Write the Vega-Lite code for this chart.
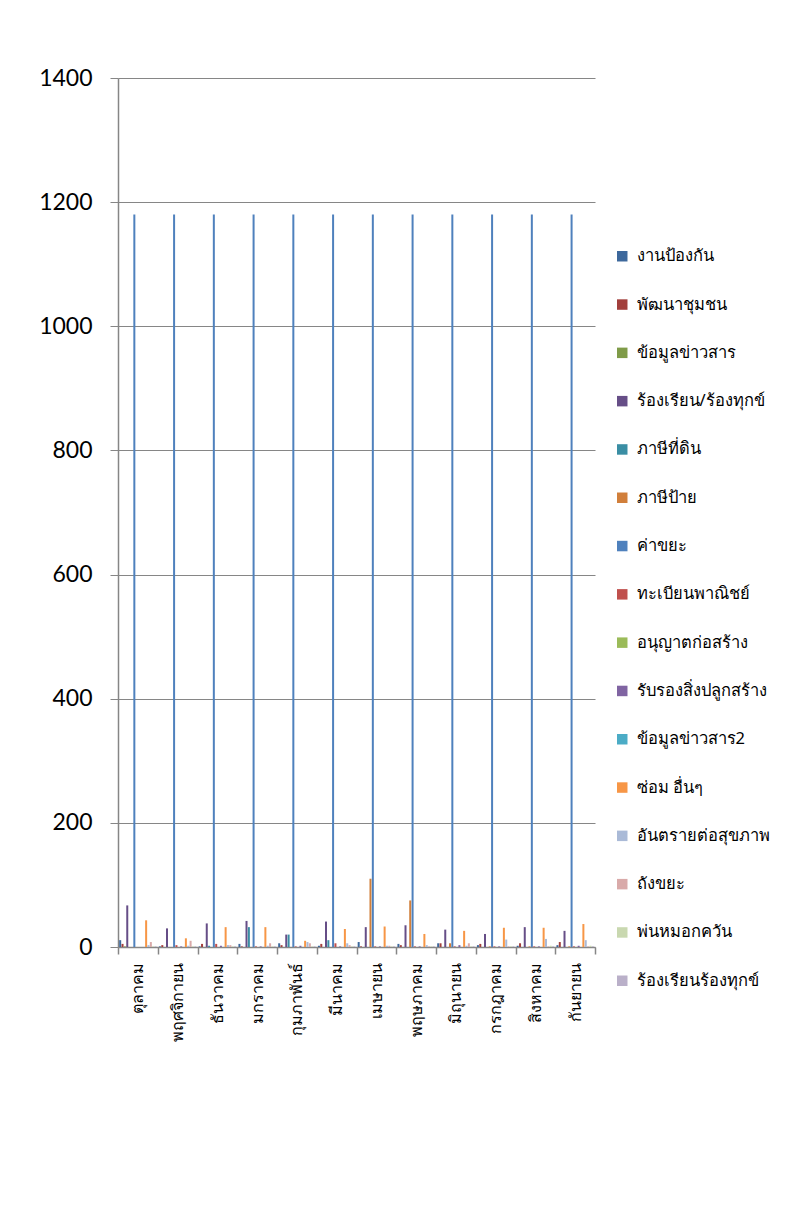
{
  "$schema": "https://vega.github.io/schema/vega-lite/v6.json",
  "width": 477,
  "height": 869,
  "autosize": {"type": "none"},
  "padding": {"left": 118, "top": 78, "right": 192, "bottom": 278},
  "background": "white",
  "config": {"view": {"stroke": null}, "font": "Lato"},
  "datasets": {
    "rows": [
      {"m":"ตุลาคม","s":"งานป้องกัน","v":11},{"m":"ตุลาคม","s":"พัฒนาชุมชน","v":5},{"m":"ตุลาคม","s":"ข้อมูลข่าวสาร","v":1},{"m":"ตุลาคม","s":"ร้องเรียน/ร้องทุกข์","v":67},{"m":"ตุลาคม","s":"ภาษีที่ดิน","v":0},{"m":"ตุลาคม","s":"ภาษีป้าย","v":0},{"m":"ตุลาคม","s":"ค่าขยะ","v":1180},{"m":"ตุลาคม","s":"ทะเบียนพาณิชย์","v":0},{"m":"ตุลาคม","s":"อนุญาตก่อสร้าง","v":0},{"m":"ตุลาคม","s":"รับรองสิ่งปลูกสร้าง","v":0},{"m":"ตุลาคม","s":"ข้อมูลข่าวสาร2","v":0},{"m":"ตุลาคม","s":"ซ่อม อื่นๆ","v":43},{"m":"ตุลาคม","s":"อันตรายต่อสุขภาพ","v":3},{"m":"ตุลาคม","s":"ถังขยะ","v":8},{"m":"ตุลาคม","s":"พ่นหมอกควัน","v":1},{"m":"ตุลาคม","s":"ร้องเรียนร้องทุกข์","v":1},
      {"m":"พฤศจิกายน","s":"งานป้องกัน","v":1},{"m":"พฤศจิกายน","s":"พัฒนาชุมชน","v":3},{"m":"พฤศจิกายน","s":"ข้อมูลข่าวสาร","v":0},{"m":"พฤศจิกายน","s":"ร้องเรียน/ร้องทุกข์","v":30},{"m":"พฤศจิกายน","s":"ภาษีที่ดิน","v":0},{"m":"พฤศจิกายน","s":"ภาษีป้าย","v":0},{"m":"พฤศจิกายน","s":"ค่าขยะ","v":1180},{"m":"พฤศจิกายน","s":"ทะเบียนพาณิชย์","v":3},{"m":"พฤศจิกายน","s":"อนุญาตก่อสร้าง","v":0},{"m":"พฤศจิกายน","s":"รับรองสิ่งปลูกสร้าง","v":1},{"m":"พฤศจิกายน","s":"ข้อมูลข่าวสาร2","v":0},{"m":"พฤศจิกายน","s":"ซ่อม อื่นๆ","v":14},{"m":"พฤศจิกายน","s":"อันตรายต่อสุขภาพ","v":2},{"m":"พฤศจิกายน","s":"ถังขยะ","v":10},{"m":"พฤศจิกายน","s":"พ่นหมอกควัน","v":1},{"m":"พฤศจิกายน","s":"ร้องเรียนร้องทุกข์","v":1},
      {"m":"ธันวาคม","s":"งานป้องกัน","v":1},{"m":"ธันวาคม","s":"พัฒนาชุมชน","v":5},{"m":"ธันวาคม","s":"ข้อมูลข่าวสาร","v":0},{"m":"ธันวาคม","s":"ร้องเรียน/ร้องทุกข์","v":38},{"m":"ธันวาคม","s":"ภาษีที่ดิน","v":2},{"m":"ธันวาคม","s":"ภาษีป้าย","v":0},{"m":"ธันวาคม","s":"ค่าขยะ","v":1180},{"m":"ธันวาคม","s":"ทะเบียนพาณิชย์","v":5},{"m":"ธันวาคม","s":"อนุญาตก่อสร้าง","v":0},{"m":"ธันวาคม","s":"รับรองสิ่งปลูกสร้าง","v":2},{"m":"ธันวาคม","s":"ข้อมูลข่าวสาร2","v":0},{"m":"ธันวาคม","s":"ซ่อม อื่นๆ","v":32},{"m":"ธันวาคม","s":"อันตรายต่อสุขภาพ","v":3},{"m":"ธันวาคม","s":"ถังขยะ","v":3},{"m":"ธันวาคม","s":"พ่นหมอกควัน","v":1},{"m":"ธันวาคม","s":"ร้องเรียนร้องทุกข์","v":1},
      {"m":"มกราคม","s":"งานป้องกัน","v":5},{"m":"มกราคม","s":"พัฒนาชุมชน","v":1},{"m":"มกราคม","s":"ข้อมูลข่าวสาร","v":0},{"m":"มกราคม","s":"ร้องเรียน/ร้องทุกข์","v":42},{"m":"มกราคม","s":"ภาษีที่ดิน","v":32},{"m":"มกราคม","s":"ภาษีป้าย","v":0},{"m":"มกราคม","s":"ค่าขยะ","v":1180},{"m":"มกราคม","s":"ทะเบียนพาณิชย์","v":1},{"m":"มกราคม","s":"อนุญาตก่อสร้าง","v":0},{"m":"มกราคม","s":"รับรองสิ่งปลูกสร้าง","v":1},{"m":"มกราคม","s":"ข้อมูลข่าวสาร2","v":0},{"m":"มกราคม","s":"ซ่อม อื่นๆ","v":32},{"m":"มกราคม","s":"อันตรายต่อสุขภาพ","v":2},{"m":"มกราคม","s":"ถังขยะ","v":6},{"m":"มกราคม","s":"พ่นหมอกควัน","v":1},{"m":"มกราคม","s":"ร้องเรียนร้องทุกข์","v":1},
      {"m":"กุมภาพันธ์","s":"งานป้องกัน","v":6},{"m":"กุมภาพันธ์","s":"พัฒนาชุมชน","v":3},{"m":"กุมภาพันธ์","s":"ข้อมูลข่าวสาร","v":0},{"m":"กุมภาพันธ์","s":"ร้องเรียน/ร้องทุกข์","v":20},{"m":"กุมภาพันธ์","s":"ภาษีที่ดิน","v":20},{"m":"กุมภาพันธ์","s":"ภาษีป้าย","v":0},{"m":"กุมภาพันธ์","s":"ค่าขยะ","v":1180},{"m":"กุมภาพันธ์","s":"ทะเบียนพาณิชย์","v":1},{"m":"กุมภาพันธ์","s":"อนุญาตก่อสร้าง","v":0},{"m":"กุมภาพันธ์","s":"รับรองสิ่งปลูกสร้าง","v":2},{"m":"กุมภาพันธ์","s":"ข้อมูลข่าวสาร2","v":0},{"m":"กุมภาพันธ์","s":"ซ่อม อื่นๆ","v":10},{"m":"กุมภาพันธ์","s":"อันตรายต่อสุขภาพ","v":8},{"m":"กุมภาพันธ์","s":"ถังขยะ","v":6},{"m":"กุมภาพันธ์","s":"พ่นหมอกควัน","v":1},{"m":"กุมภาพันธ์","s":"ร้องเรียนร้องทุกข์","v":1},
      {"m":"มีนาคม","s":"งานป้องกัน","v":2},{"m":"มีนาคม","s":"พัฒนาชุมชน","v":5},{"m":"มีนาคม","s":"ข้อมูลข่าวสาร","v":0},{"m":"มีนาคม","s":"ร้องเรียน/ร้องทุกข์","v":41},{"m":"มีนาคม","s":"ภาษีที่ดิน","v":11},{"m":"มีนาคม","s":"ภาษีป้าย","v":0},{"m":"มีนาคม","s":"ค่าขยะ","v":1180},{"m":"มีนาคม","s":"ทะเบียนพาณิชย์","v":6},{"m":"มีนาคม","s":"อนุญาตก่อสร้าง","v":0},{"m":"มีนาคม","s":"รับรองสิ่งปลูกสร้าง","v":1},{"m":"มีนาคม","s":"ข้อมูลข่าวสาร2","v":0},{"m":"มีนาคม","s":"ซ่อม อื่นๆ","v":29},{"m":"มีนาคม","s":"อันตรายต่อสุขภาพ","v":6},{"m":"มีนาคม","s":"ถังขยะ","v":3},{"m":"มีนาคม","s":"พ่นหมอกควัน","v":1},{"m":"มีนาคม","s":"ร้องเรียนร้องทุกข์","v":1},
      {"m":"เมษายน","s":"งานป้องกัน","v":8},{"m":"เมษายน","s":"พัฒนาชุมชน","v":1},{"m":"เมษายน","s":"ข้อมูลข่าวสาร","v":0},{"m":"เมษายน","s":"ร้องเรียน/ร้องทุกข์","v":32},{"m":"เมษายน","s":"ภาษีที่ดิน","v":0},{"m":"เมษายน","s":"ภาษีป้าย","v":110},{"m":"เมษายน","s":"ค่าขยะ","v":1180},{"m":"เมษายน","s":"ทะเบียนพาณิชย์","v":1},{"m":"เมษายน","s":"อนุญาตก่อสร้าง","v":0},{"m":"เมษายน","s":"รับรองสิ่งปลูกสร้าง","v":1},{"m":"เมษายน","s":"ข้อมูลข่าวสาร2","v":0},{"m":"เมษายน","s":"ซ่อม อื่นๆ","v":33},{"m":"เมษายน","s":"อันตรายต่อสุขภาพ","v":2},{"m":"เมษายน","s":"ถังขยะ","v":2},{"m":"เมษายน","s":"พ่นหมอกควัน","v":1},{"m":"เมษายน","s":"ร้องเรียนร้องทุกข์","v":1},
      {"m":"พฤษภาคม","s":"งานป้องกัน","v":5},{"m":"พฤษภาคม","s":"พัฒนาชุมชน","v":3},{"m":"พฤษภาคม","s":"ข้อมูลข่าวสาร","v":0},{"m":"พฤษภาคม","s":"ร้องเรียน/ร้องทุกข์","v":35},{"m":"พฤษภาคม","s":"ภาษีที่ดิน","v":0},{"m":"พฤษภาคม","s":"ภาษีป้าย","v":75},{"m":"พฤษภาคม","s":"ค่าขยะ","v":1180},{"m":"พฤษภาคม","s":"ทะเบียนพาณิชย์","v":1},{"m":"พฤษภาคม","s":"อนุญาตก่อสร้าง","v":0},{"m":"พฤษภาคม","s":"รับรองสิ่งปลูกสร้าง","v":1},{"m":"พฤษภาคม","s":"ข้อมูลข่าวสาร2","v":0},{"m":"พฤษภาคม","s":"ซ่อม อื่นๆ","v":21},{"m":"พฤษภาคม","s":"อันตรายต่อสุขภาพ","v":3},{"m":"พฤษภาคม","s":"ถังขยะ","v":1},{"m":"พฤษภาคม","s":"พ่นหมอกควัน","v":1},{"m":"พฤษภาคม","s":"ร้องเรียนร้องทุกข์","v":1},
      {"m":"มิถุนายน","s":"งานป้องกัน","v":6},{"m":"มิถุนายน","s":"พัฒนาชุมชน","v":6},{"m":"มิถุนายน","s":"ข้อมูลข่าวสาร","v":0},{"m":"มิถุนายน","s":"ร้องเรียน/ร้องทุกข์","v":28},{"m":"มิถุนายน","s":"ภาษีที่ดิน","v":0},{"m":"มิถุนายน","s":"ภาษีป้าย","v":6},{"m":"มิถุนายน","s":"ค่าขยะ","v":1180},{"m":"มิถุนายน","s":"ทะเบียนพาณิชย์","v":1},{"m":"มิถุนายน","s":"อนุญาตก่อสร้าง","v":0},{"m":"มิถุนายน","s":"รับรองสิ่งปลูกสร้าง","v":3},{"m":"มิถุนายน","s":"ข้อมูลข่าวสาร2","v":0},{"m":"มิถุนายน","s":"ซ่อม อื่นๆ","v":26},{"m":"มิถุนายน","s":"อันตรายต่อสุขภาพ","v":2},{"m":"มิถุนายน","s":"ถังขยะ","v":6},{"m":"มิถุนายน","s":"พ่นหมอกควัน","v":1},{"m":"มิถุนายน","s":"ร้องเรียนร้องทุกข์","v":1},
      {"m":"กรกฎาคม","s":"งานป้องกัน","v":3},{"m":"กรกฎาคม","s":"พัฒนาชุมชน","v":5},{"m":"กรกฎาคม","s":"ข้อมูลข่าวสาร","v":0},{"m":"กรกฎาคม","s":"ร้องเรียน/ร้องทุกข์","v":21},{"m":"กรกฎาคม","s":"ภาษีที่ดิน","v":0},{"m":"กรกฎาคม","s":"ภาษีป้าย","v":1},{"m":"กรกฎาคม","s":"ค่าขยะ","v":1180},{"m":"กรกฎาคม","s":"ทะเบียนพาณิชย์","v":1},{"m":"กรกฎาคม","s":"อนุญาตก่อสร้าง","v":0},{"m":"กรกฎาคม","s":"รับรองสิ่งปลูกสร้าง","v":1},{"m":"กรกฎาคม","s":"ข้อมูลข่าวสาร2","v":0},{"m":"กรกฎาคม","s":"ซ่อม อื่นๆ","v":31},{"m":"กรกฎาคม","s":"อันตรายต่อสุขภาพ","v":12},{"m":"กรกฎาคม","s":"ถังขยะ","v":1},{"m":"กรกฎาคม","s":"พ่นหมอกควัน","v":1},{"m":"กรกฎาคม","s":"ร้องเรียนร้องทุกข์","v":1},
      {"m":"สิงหาคม","s":"งานป้องกัน","v":2},{"m":"สิงหาคม","s":"พัฒนาชุมชน","v":6},{"m":"สิงหาคม","s":"ข้อมูลข่าวสาร","v":0},{"m":"สิงหาคม","s":"ร้องเรียน/ร้องทุกข์","v":32},{"m":"สิงหาคม","s":"ภาษีที่ดิน","v":0},{"m":"สิงหาคม","s":"ภาษีป้าย","v":1},{"m":"สิงหาคม","s":"ค่าขยะ","v":1180},{"m":"สิงหาคม","s":"ทะเบียนพาณิชย์","v":1},{"m":"สิงหาคม","s":"อนุญาตก่อสร้าง","v":0},{"m":"สิงหาคม","s":"รับรองสิ่งปลูกสร้าง","v":1},{"m":"สิงหาคม","s":"ข้อมูลข่าวสาร2","v":0},{"m":"สิงหาคม","s":"ซ่อม อื่นๆ","v":31},{"m":"สิงหาคม","s":"อันตรายต่อสุขภาพ","v":13},{"m":"สิงหาคม","s":"ถังขยะ","v":1},{"m":"สิงหาคม","s":"พ่นหมอกควัน","v":2},{"m":"สิงหาคม","s":"ร้องเรียนร้องทุกข์","v":1},
      {"m":"กันยายน","s":"งานป้องกัน","v":3},{"m":"กันยายน","s":"พัฒนาชุมชน","v":8},{"m":"กันยายน","s":"ข้อมูลข่าวสาร","v":0},{"m":"กันยายน","s":"ร้องเรียน/ร้องทุกข์","v":26},{"m":"กันยายน","s":"ภาษีที่ดิน","v":0},{"m":"กันยายน","s":"ภาษีป้าย","v":1},{"m":"กันยายน","s":"ค่าขยะ","v":1180},{"m":"กันยายน","s":"ทะเบียนพาณิชย์","v":1},{"m":"กันยายน","s":"อนุญาตก่อสร้าง","v":0},{"m":"กันยายน","s":"รับรองสิ่งปลูกสร้าง","v":2},{"m":"กันยายน","s":"ข้อมูลข่าวสาร2","v":0},{"m":"กันยายน","s":"ซ่อม อื่นๆ","v":37},{"m":"กันยายน","s":"อันตรายต่อสุขภาพ","v":11},{"m":"กันยายน","s":"ถังขยะ","v":1},{"m":"กันยายน","s":"พ่นหมอกควัน","v":2},{"m":"กันยายน","s":"ร้องเรียนร้องทุกข์","v":1}
    ]
  },
  "data": {"name": "rows"},
  "mark": {"type": "bar"},
  "encoding": {
    "x": {
      "field": "m", "type": "nominal",
      "sort": ["ตุลาคม","พฤศจิกายน","ธันวาคม","มกราคม","กุมภาพันธ์","มีนาคม","เมษายน","พฤษภาคม","มิถุนายน","กรกฎาคม","สิงหาคม","กันยายน"],
      "scale": {"paddingInner": 0, "paddingOuter": 0},
      "axis": {
        "title": null, "labelAngle": -90, "labelFontSize": 16, "labelColor": "#000000",
        "labelFont": "Noto Sans", "labelPadding": 8, "tickBand": "extent", "tickSize": 7,
        "tickColor": "#868686", "domainColor": "#868686", "domainWidth": 1.5, "tickWidth": 1.5, "grid": false
      }
    },
    "xOffset": {
      "field": "s", "type": "nominal",
      "sort": ["งานป้องกัน","พัฒนาชุมชน","ข้อมูลข่าวสาร","ร้องเรียน/ร้องทุกข์","ภาษีที่ดิน","ภาษีป้าย","ค่าขยะ","ทะเบียนพาณิชย์","อนุญาตก่อสร้าง","รับรองสิ่งปลูกสร้าง","ข้อมูลข่าวสาร2","ซ่อม อื่นๆ","อันตรายต่อสุขภาพ","ถังขยะ","พ่นหมอกควัน","ร้องเรียนร้องทุกข์"],
      "scale": {"paddingInner": 0.15, "paddingOuter": 0.5}
    },
    "y": {
      "field": "v", "type": "quantitative",
      "scale": {"domain": [0, 1400], "nice": false},
      "axis": {
        "title": null, "values": [0,200,400,600,800,1000,1200,1400], "format": "d",
        "labelFontSize": 23, "labelColor": "#000000", "labelPadding": 18,
        "tickSize": 8, "tickColor": "#868686", "domainColor": "#868686", "domainWidth": 1.5,
        "gridColor": "#868686", "gridWidth": 1.2
      }
    },
    "color": {
      "field": "s", "type": "nominal",
      "scale": {
        "domain": ["งานป้องกัน","พัฒนาชุมชน","ข้อมูลข่าวสาร","ร้องเรียน/ร้องทุกข์","ภาษีที่ดิน","ภาษีป้าย","ค่าขยะ","ทะเบียนพาณิชย์","อนุญาตก่อสร้าง","รับรองสิ่งปลูกสร้าง","ข้อมูลข่าวสาร2","ซ่อม อื่นๆ","อันตรายต่อสุขภาพ","ถังขยะ","พ่นหมอกควัน","ร้องเรียนร้องทุกข์"],
        "range": ["#3D689C","#A23F3C","#7F9B48","#664E87","#3A8EA4","#D17F3B","#4F81BD","#C0504D","#9BBB59","#8064A2","#4BACC6","#F79646","#AABAD7","#D9AAA9","#C9D8B0","#BAB0C9"]
      },
      "legend": {
        "title": null, "orient": "none", "legendX": 496, "legendY": 170,
        "symbolType": "square", "symbolSize": 110, "symbolStrokeWidth": 0,
        "labelFontSize": 16.5, "labelColor": "#000000", "labelFont": "Noto Sans", "labelOffset": 6,
        "rowPadding": 31.3, "labelLimit": 200
      }
    }
  }
}
